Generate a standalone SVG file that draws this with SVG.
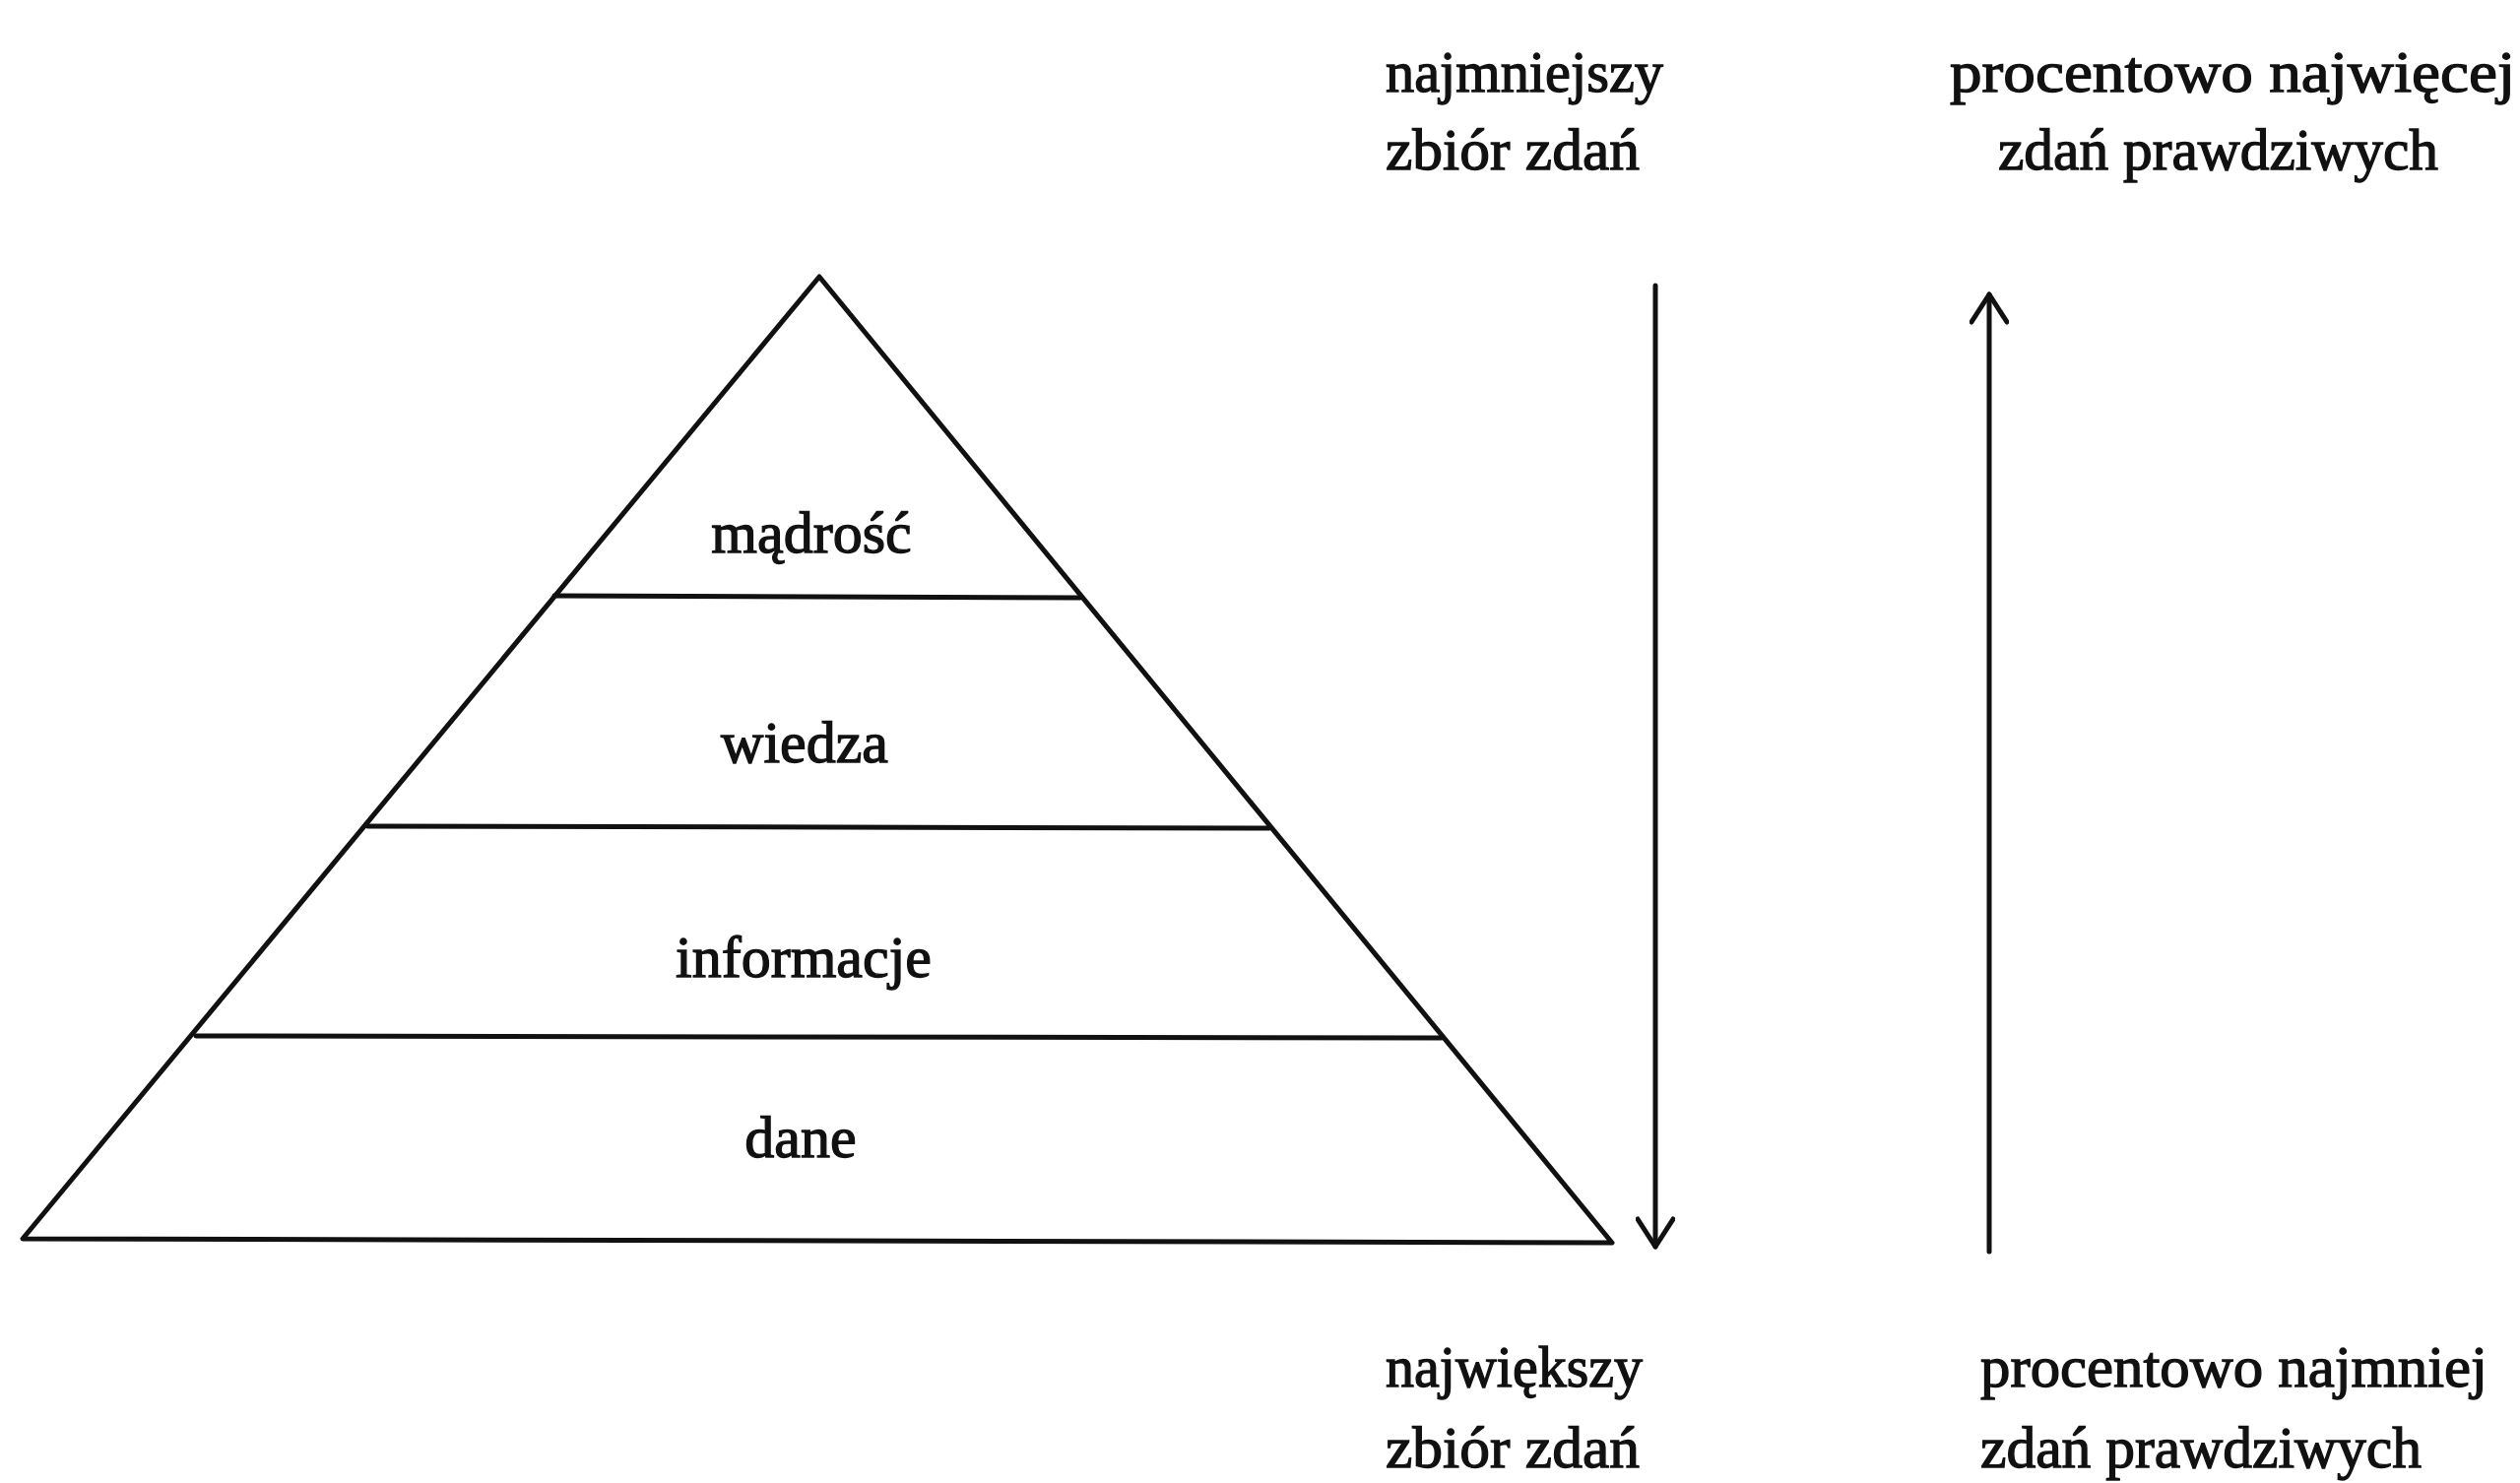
<svg xmlns="http://www.w3.org/2000/svg" width="2559" height="1506" viewBox="0 0 2559 1506">
<style>
.ln{stroke:#111;stroke-width:5;fill:none;stroke-linecap:round;stroke-linejoin:round}
.t{font-family:"Liberation Serif","Times New Roman",serif;font-size:60px;fill:#111;stroke:#111;stroke-width:1.3}
.c{text-anchor:middle}
</style>
<defs>
<marker id="ah" viewBox="0 0 50 40" refX="46" refY="20" markerWidth="50" markerHeight="40" markerUnits="userSpaceOnUse" orient="auto">
<path d="M18 2 L46 20 L18 38" fill="none" stroke="#111" stroke-width="5" stroke-linecap="round" stroke-linejoin="round"/>
</marker>
</defs>
<rect width="2559" height="1506" fill="#fff"/>
<g id="pyramid">
<path class="ln" d="M832 281 L1637 1262 L23 1258 Z"/>
<line class="ln" x1="563" y1="605" x2="1097" y2="607"/>
<line class="ln" x1="373" y1="839" x2="1289" y2="841"/>
<line class="ln" x1="199" y1="1052" x2="1464" y2="1054"/>
</g>
<g id="madrosc"><text class="t c" x="824" y="561">mądrość</text></g>
<g id="wiedza"><text class="t c" x="817" y="774">wiedza</text></g>
<g id="informacje"><text class="t c" x="816" y="992">informacje</text></g>
<g id="dane"><text class="t c" x="813" y="1175">dane</text></g>
<g id="label-top-left">
<text class="t" x="1407" y="93" textLength="282" lengthAdjust="spacingAndGlyphs">najmniejszy</text>
<text class="t" x="1407" y="172" textLength="258" lengthAdjust="spacingAndGlyphs">zbiór zdań</text>
</g>
<g id="label-top-right">
<text class="t" x="1980" y="93" textLength="574" lengthAdjust="spacingAndGlyphs">procentowo najwięcej</text>
<text class="t" x="2029" y="172" textLength="447" lengthAdjust="spacingAndGlyphs">zdań prawdziwych</text>
</g>
<g id="label-bottom-left">
<text class="t" x="1407" y="1408" textLength="261" lengthAdjust="spacingAndGlyphs">największy</text>
<text class="t" x="1407" y="1490" textLength="258" lengthAdjust="spacingAndGlyphs">zbiór zdań</text>
</g>
<g id="label-bottom-right">
<text class="t" x="2011" y="1408" textLength="515" lengthAdjust="spacingAndGlyphs">procentowo najmniej</text>
<text class="t" x="2011" y="1490" textLength="448" lengthAdjust="spacingAndGlyphs">zdań prawdziwych</text>
</g>
<g id="connectors">
<line class="ln" x1="1681" y1="290" x2="1681" y2="1266" marker-end="url(#ah)"/>
<line class="ln" x1="2020" y1="1271" x2="2020" y2="299" marker-end="url(#ah)"/>
</g>
</svg>
